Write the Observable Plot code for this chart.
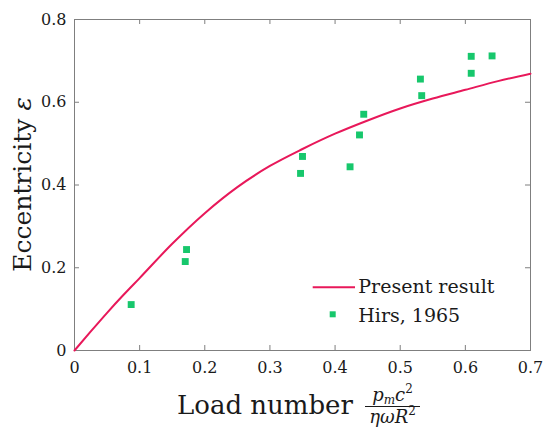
<!DOCTYPE html>
<html>
<head>
<meta charset="utf-8">
<script src="https://cdn.jsdelivr.net/npm/d3@7"></script>
<script src="https://cdn.jsdelivr.net/npm/@observablehq/plot@0.6"></script>
<style>
  html, body { margin: 0; padding: 0; background: #fff; }
  svg text { font-family: "DejaVu Serif", "Liberation Serif", serif !important; }
</style>
</head>
<body>
<script>
// ---- data ----
const xTicks = [0, 0.1, 0.2, 0.3, 0.4, 0.5, 0.6, 0.7];
const yTicks = [0, 0.2, 0.4, 0.6, 0.8];

// Present result (solid curve)
const curveX = [0, 0.025, 0.05, 0.075, 0.1, 0.15, 0.2, 0.25, 0.3, 0.35, 0.4, 0.45, 0.5, 0.55, 0.6, 0.65, 0.7];
const curveY = [0, 0.046, 0.091, 0.134, 0.175, 0.258, 0.332, 0.395, 0.446, 0.487, 0.524, 0.556, 0.585, 0.609, 0.630, 0.651, 0.669];

// Hirs, 1965 (squares)
const hirsX = [0.087, 0.172, 0.170, 0.350, 0.347, 0.423, 0.4375, 0.444, 0.531, 0.533, 0.609, 0.609, 0.641];
const hirsY = [0.111, 0.244, 0.215, 0.469, 0.428, 0.444, 0.521, 0.571, 0.656, 0.616, 0.711, 0.670, 0.712];

const seriesNames = ["Present result", "Hirs, 1965"];

// ---- styles ----
const RED = "#e8185a";
const GREEN = "#17c76c";
const AXIS = "#7f7f7f";
const INK = "#1a1a1a";
const FONT = "DejaVu Serif";

const curve = curveX.map((x, i) => ({x, y: curveY[i]}));
const hirs = hirsX.map((x, i) => ({x, y: hirsY[i]}));
const fmt = d => (d === 0 ? "0" : String(d));

const W = 550, H = 437, ML = 74, MR = 20, MT = 19, MB = 87;
const innerW = W - ML - MR, innerH = H - MT - MB, TICK = 5;

const plot = Plot.plot({
  width: W, height: H,
  marginLeft: ML, marginRight: MR, marginTop: MT, marginBottom: MB,
  style: {fontFamily: FONT, fontSize: "16px", color: INK, background: "#fff"},
  x: {domain: [0, 0.7]},
  y: {domain: [0, 0.8]},
  marks: [
    Plot.ruleX(xTicks, {x: d => d, insetTop: innerH - TICK, stroke: AXIS}),
    Plot.ruleX(xTicks, {x: d => d, insetBottom: innerH - TICK, stroke: AXIS}),
    Plot.ruleY(yTicks, {y: d => d, insetRight: innerW - TICK, stroke: AXIS}),
    Plot.ruleY(yTicks, {y: d => d, insetLeft: innerW - TICK, stroke: AXIS}),
    Plot.frame({stroke: AXIS}),
    Plot.axisX({ticks: xTicks, tickSize: 0, tickPadding: 11, tickFormat: fmt, label: null}),
    Plot.axisY({ticks: yTicks, tickSize: 0, tickPadding: 8, tickFormat: fmt, label: null}),
    Plot.line(curve, {x: "x", y: "y", stroke: RED, strokeWidth: 2, curve: "monotone-x"}),
    Plot.dot(hirs, {x: "x", y: "y", symbol: "square", fill: GREEN, r: 3.9})
  ]
});

document.body.appendChild(plot);
const svg = d3.select(plot);

// Legend
const lg = svg.append("g").attr("font-size", 19).attr("fill", INK).attr("text-anchor", "start");
lg.append("line").attr("x1", 312.7).attr("x2", 355).attr("y1", 287.3).attr("y2", 287.3)
  .attr("stroke", RED).attr("stroke-width", 2);
lg.append("rect").attr("x", 329.7).attr("y", 311.3).attr("width", 6).attr("height", 6).attr("fill", GREEN);
lg.append("text").attr("x", 358.3).attr("y", 293.3).text(seriesNames[0]);
lg.append("text").attr("x", 358.3).attr("y", 321.7).text(seriesNames[1]);

// Y label
const yl = svg.append("text").attr("font-size", 25).attr("fill", INK)
  .attr("text-anchor", "middle").attr("transform", `translate(31,${MT + innerH / 2}) rotate(-90)`);
yl.append("tspan").text("Eccentricity ");
yl.append("tspan").attr("font-style", "italic").text("ε");

// X label
const xl = svg.append("g").attr("fill", INK);
xl.append("text").attr("x", 177).attr("y", 414).attr("font-size", 26).attr("text-anchor", "start").text("Load number");
xl.append("line").attr("x1", 365).attr("x2", 420).attr("y1", 406.5).attr("y2", 406.5)
  .attr("stroke", INK).attr("stroke-width", 1);
const num = xl.append("text").attr("x", 392.5).attr("y", 400.5).attr("text-anchor", "middle")
  .attr("font-size", 18).attr("font-style", "italic");
num.append("tspan").text("p");
num.append("tspan").attr("font-size", 12).attr("dy", 3).text("m");
num.append("tspan").attr("dy", -3).text("c");
num.append("tspan").attr("font-size", 12).attr("font-style", "normal").attr("dy", -8).text("2");
const den = xl.append("text").attr("x", 392.5).attr("y", 423).attr("text-anchor", "middle")
  .attr("font-size", 18).attr("font-style", "italic");
den.append("tspan").text("ηωR");
den.append("tspan").attr("font-size", 12).attr("font-style", "normal").attr("dy", -8).text("2");
</script>
</body>
</html>
